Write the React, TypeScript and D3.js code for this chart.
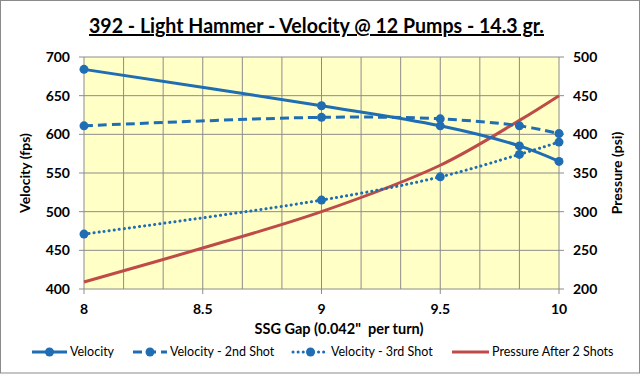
import React from "react";
import * as d3 from "d3";

const title = "392 - Light Hammer - Velocity @ 12 Pumps - 14.3 gr.";
const gapX = [8, 9, 9.5, 9.8333, 10];
const velocity = [684, 637, 611, 585, 565];
const velocity2nd = [611, 622, 620, 611, 601];
const velocity3rd = [471, 515, 545, 574, 590];
const pressureX = [8, 8.5, 9, 9.5, 9.8333, 10];
const pressure = [209, 253, 300, 360, 418, 450];
const xTicks = [8, 8.5, 9, 9.5, 10];
const leftTicks = [400, 450, 500, 550, 600, 650, 700];
const rightTicks = [200, 250, 300, 350, 400, 450, 500];

const BLUE = "#1f6db3";
const RED = "#be4b48";
const GRID = "#8c8c8c";
const FONT = "Lato, 'Open Sans', sans-serif";

export default function App() {
  const W = 641, H = 375;
  const x = d3.scaleLinear().domain([8, 10]).range([84, 559]);
  const yL = d3.scaleLinear().domain([400, 700]).range([289, 57]);
  const yR = d3.scaleLinear().domain([200, 500]).range([289, 57]);
  const minor = d3.range(0, 13).map((i) => 8 + i / 6);

  const lineL = d3
    .line<[number, number]>()
    .x((d) => x(d[0]))
    .y((d) => yL(d[1]))
    .curve(d3.curveCatmullRom.alpha(0.5));
  const lineR = d3
    .line<[number, number]>()
    .x((d) => x(d[0]))
    .y((d) => yR(d[1]))
    .curve(d3.curveCatmullRom.alpha(0.5));

  const series = [
    { vals: velocity, dash: undefined as string | undefined, cap: "butt" },
    { vals: velocity2nd, dash: "9,5", cap: "butt" },
    { vals: velocity3rd, dash: "0.1,5", cap: "round" },
  ];

  const legend = [
    { label: "Velocity", x0: 32, x1: 67, dash: undefined as string | undefined, cap: "butt", color: BLUE, marker: true },
    { label: "Velocity - 2nd Shot", x0: 133, x1: 167, dash: "9,5", cap: "butt", color: BLUE, marker: true },
    { label: "Velocity - 3rd Shot", x0: 293, x1: 328, dash: "0.1,5", cap: "round", color: BLUE, marker: true },
    { label: "Pressure After 2 Shots", x0: 452, x1: 489, dash: undefined, cap: "butt", color: RED, marker: false },
  ];

  return (
    <svg width={W} height={H} style={{ display: "block", position: "absolute", left: 0, top: 0 }} fontFamily={FONT}>
      <rect x={0} y={0} width={W} height={H} fill="#ffffff" />
      <rect x={0.5} y={0.5} width={639} height={372.5} fill="none" stroke="#8a8a8a" strokeWidth={1} />
      <text x={316.5} y={33} textAnchor="middle" fontSize={20} fontWeight="bold" textDecoration="underline" textLength={455} lengthAdjust="spacingAndGlyphs" fill="#000">
        {title}
      </text>

      <rect x={x(8)} y={yL(700)} width={x(10) - x(8)} height={yL(400) - yL(700)} fill="#ffffc6" />
      {minor.map((v, i) => (
        <line key={"v" + i} x1={x(v)} x2={x(v)} y1={yL(700)} y2={yL(400)} stroke={GRID} strokeWidth={1} />
      ))}
      {leftTicks.map((v) => (
        <line key={"h" + v} x1={x(8) - 5} x2={x(10) + 5} y1={yL(v)} y2={yL(v)} stroke={GRID} strokeWidth={1} />
      ))}
      {xTicks.map((v) => (
        <line key={"xt" + v} x1={x(v)} x2={x(v)} y1={yL(400)} y2={yL(400) + 5} stroke={GRID} strokeWidth={1} />
      ))}

      {leftTicks.map((v) => (
        <text key={"lt" + v} x={70} y={yL(v)} dy="0.35em" textAnchor="end" fontSize={14} fontWeight="bold">{v}</text>
      ))}
      {rightTicks.map((v) => (
        <text key={"rt" + v} x={573} y={yR(v)} dy="0.35em" textAnchor="start" fontSize={14} fontWeight="bold">{v}</text>
      ))}
      {xTicks.map((v) => (
        <text key={"xl" + v} x={x(v)} y={309} dy="0.35em" textAnchor="middle" fontSize={14} fontWeight="bold">{v}</text>
      ))}

      <text transform="translate(25,173) rotate(-90)" textAnchor="middle" dy="0.35em" fontSize={14} fontWeight="bold">Velocity (fps)</text>
      <text transform="translate(617,173) rotate(-90)" textAnchor="middle" dy="0.35em" fontSize={14} fontWeight="bold">Pressure (psi)</text>
      <text x={339} y={329} dy="0.35em" textAnchor="middle" fontSize={14.5} fontWeight="bold">{"SSG Gap (0.042\"\u00a0 per turn)"}</text>

      <path d={lineR(pressureX.map((px, i) => [px, pressure[i]] as [number, number])) || ""} fill="none" stroke={RED} strokeWidth={3} />
      {series.map((s, si) => (
        <g key={"s" + si}>
          <path d={lineL(gapX.map((gx, i) => [gx, s.vals[i]] as [number, number])) || ""} fill="none" stroke={BLUE} strokeWidth={3} strokeDasharray={s.dash} strokeLinecap={s.cap as any} />
          {gapX.map((gx, i) => (
            <circle key={i} cx={x(gx)} cy={yL(s.vals[i])} r={4.5} fill={BLUE} />
          ))}
        </g>
      ))}

      {legend.map((l) => (
        <g key={l.label}>
          <line x1={l.x0} x2={l.x1} y1={352} y2={352} stroke={l.color} strokeWidth={3} strokeDasharray={l.dash} strokeLinecap={l.cap as any} />
          {l.marker && <circle cx={(l.x0 + l.x1) / 2} cy={352} r={4.5} fill={l.color} />}
          <text x={l.x1 + 3} y={352} dy="0.35em" fontSize={12.5} fill="#000">{l.label}</text>
        </g>
      ))}
    </svg>
  );
}
